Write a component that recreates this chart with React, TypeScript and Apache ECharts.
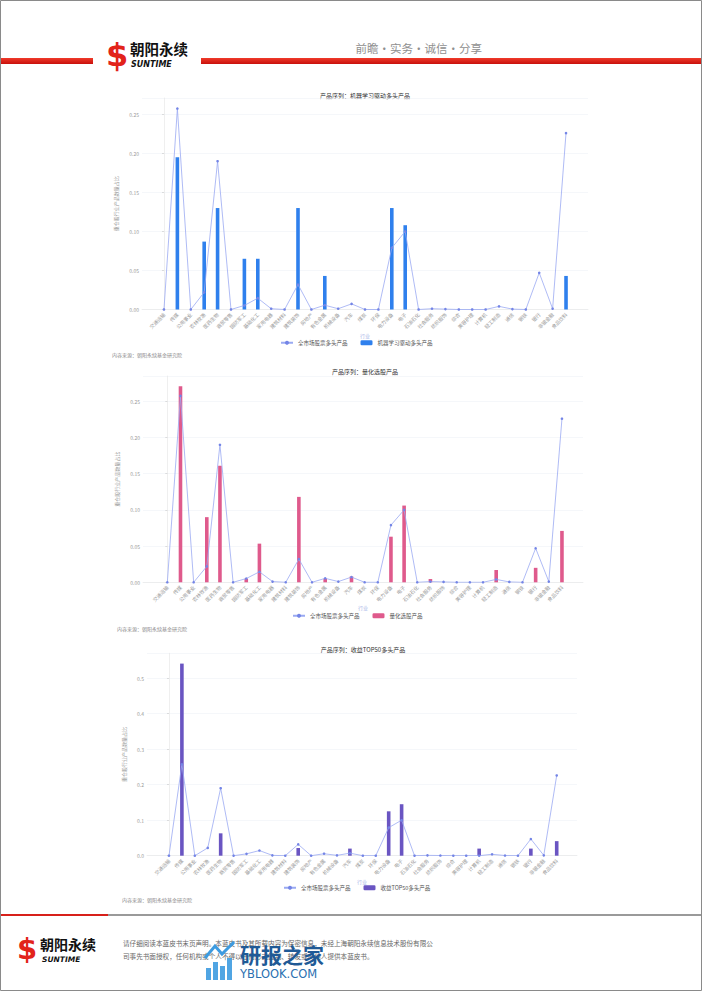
import { useEffect, useRef } from 'react';
import * as echarts from 'echarts';

const industries = ['交通运输','传媒','公用事业','农林牧渔','医药生物','商贸零售','国防军工','基础化工','家用电器','建筑材料','建筑装饰','房地产','有色金属','机械设备','汽车','煤炭','环保','电力设备','电子','石油石化','社会服务','纺织服饰','综合','美容护理','计算机','轻工制造','通信','钢铁','银行','非银金融','食品饮料'];

const marketLong = [0, 0.2575, 0, 0.022, 0.19, 0, 0.0052, 0.0145, 0.001, 0, 0.032, 0, 0.0055, 0.001, 0.0072, 0, 0, 0.079, 0.1, 0, 0.001, 0.0005, 0, 0, 0, 0.004, 0.0005, 0, 0.047, 0.001, 0.226];
const mlLong = [0, 0.195, 0, 0.087, 0.13, 0, 0.065, 0.065, 0, 0, 0.13, 0, 0.043, 0, 0, 0, 0, 0.13, 0.108, 0, 0, 0, 0, 0, 0, 0, 0, 0, 0, 0, 0.043];
const quantStock = [0, 0.271, 0, 0.09, 0.161, 0, 0.005, 0.0534, 0, 0, 0.118, 0, 0.005, 0, 0.008, 0, 0, 0.063, 0.106, 0, 0.0045, 0, 0, 0, 0, 0.017, 0, 0, 0.02, 0, 0.071];
const top50Long = [0, 0.541, 0, 0, 0.063, 0, 0, 0, 0, 0, 0.0216, 0, 0, 0, 0.02, 0, 0, 0.125, 0.145, 0, 0, 0, 0, 0, 0.02, 0, 0, 0, 0.02, 0, 0.041];

const marketName = '全市场股票多头产品';
const panelTitles = ['产品序列：机器学习驱动多头产品', '产品序列：量化选股产品', '产品序列：收益TOP50多头产品'];
const barNames = ['机器学习驱动多头产品', '量化选股产品', '收益TOP50多头产品'];
const barSeries = [mlLong, quantStock, top50Long];
const xAxisName = '行业';
const yAxisName = '重仓股行业产品数量占比';
const sourceText = '内容来源：朝阳永续基金研究院';

const W = 702;
const H = 991;
const FONT = '"Noto Sans CJK SC", "Noto Sans", sans-serif';

const panels = [
  { left: 142, width: 446, top: 98, height: 211.5, xMin: -1.64, xMax: 31.64, yMax: 0.271, interval: 0.05, dec: 2, color: '#2f80ed', titleX: 365, titleY: 95, legendLeft: 280, legendY: 344, src: [112, 354], yGap: 16, xGap: 23.5 },
  { left: 143, width: 440, top: 376, height: 206.3, xMin: -1.85, xMax: 31.6, yMax: 0.285, interval: 0.05, dec: 2, color: '#df5a8c', titleX: 365, titleY: 371, legendLeft: 292, legendY: 617, src: [117, 628], yGap: 12, xGap: 23 },
  { left: 147, width: 430, top: 653.3, height: 202.4, xMin: -1.7, xMax: 31.57, yMax: 0.57, interval: 0.1, dec: 1, color: '#6a55c2', titleX: 363, titleY: 649, legendLeft: 283, legendY: 889, src: [122, 899], yGap: 11, xGap: 22.5 },
];

const lineColor = '#9aaaf2';
const markerColor = '#7485e6';

function buildOption() {
  const grid: any[] = [];
  const xAxis: any[] = [];
  const yAxis: any[] = [];
  const series: any[] = [];
  const legend: any[] = [];
  const graphic: any[] = [];

  panels.forEach((p, i) => {
    grid.push({ left: p.left, top: p.top, width: p.width, height: p.height, containLabel: false });
    xAxis.push({
      type: 'value', gridIndex: i, min: p.xMin, max: p.xMax,
      name: xAxisName, nameLocation: 'middle', nameGap: p.xGap,
      nameTextStyle: { fontSize: 5, color: '#a8b4e8', fontFamily: FONT },
      axisLine: { show: true, lineStyle: { color: '#e6e6e6', width: 0.6 } },
      axisTick: { show: false },
      splitLine: { show: false },
      axisLabel: {
        customValues: industries.map((_, k) => k),
        formatter: (v: number) => industries[Math.round(v)] ?? '',
        rotate: 45, fontSize: 5, color: '#9a9a9a', margin: 4, fontFamily: FONT,
      },
    });
    yAxis.push({
      type: 'value', gridIndex: i, min: 0, max: p.yMax, interval: p.interval,
      name: yAxisName, nameLocation: 'middle', nameGap: p.yGap,
      nameTextStyle: { fontSize: 5, color: '#9a9a9a', fontFamily: FONT },
      axisLine: { show: true, lineStyle: { color: '#e4e4e4', width: 0.6 } },
      axisTick: { show: true, length: 2, lineStyle: { color: '#c8c8c8', width: 0.6 } },
      splitLine: { show: true, lineStyle: { color: '#eff1f6', width: 0.6 } },
      axisLabel: {
        showMaxLabel: false,
        formatter: (v: number) => v.toFixed(p.dec),
        fontSize: 5, color: '#9a9a9a', margin: 3, fontFamily: FONT,
      },
    });
    series.push({
      type: 'bar', name: barNames[i], xAxisIndex: i, yAxisIndex: i,
      data: industries.map((_, k) => [k, barSeries[i][k]]),
      barWidth: 3.6, itemStyle: { color: p.color }, z: 2,
    });
    series.push({
      type: 'line', name: marketName, xAxisIndex: i, yAxisIndex: i,
      data: industries.map((_, k) => [k, marketLong[k]]),
      symbol: 'circle', symbolSize: 2.6, showSymbol: true,
      lineStyle: { color: lineColor, width: 0.8 },
      itemStyle: { color: markerColor },
      z: 3,
    });
    legend.push({
      data: [marketName, barNames[i]],
      left: p.legendLeft, top: p.legendY - 4, orient: 'horizontal',
      padding: 0,
      itemWidth: 12, itemHeight: 5, itemGap: 13,
      textStyle: { fontSize: 5.5, color: '#555', fontFamily: FONT },
      selectedMode: false,
    });
    graphic.push({
      type: 'text', x: p.titleX, y: p.titleY,
      style: { text: panelTitles[i], fontSize: 6, fill: '#333', align: 'center', verticalAlign: 'middle', fontFamily: FONT },
    });
    graphic.push({
      type: 'text', x: p.src[0], y: p.src[1],
      style: { text: sourceText, fontSize: 5, fill: '#8a8a8a', align: 'left', verticalAlign: 'middle', fontFamily: FONT },
    });
  });

  const redGrad = new echarts.graphic.LinearGradient(0, 0, 0, 1, [
    { offset: 0, color: '#f03a2a' },
    { offset: 1, color: '#c8100c' },
  ]);

  // page frame
  graphic.push({ type: 'rect', shape: { x: 0.5, y: 0.5, width: W - 1, height: H - 1 }, style: { fill: 'none', stroke: '#8a8a8a', lineWidth: 1 }, z: 10 });
  // header bars
  graphic.push({ type: 'rect', shape: { x: 0, y: 58, width: 93, height: 6 }, style: { fill: redGrad } });
  graphic.push({ type: 'rect', shape: { x: 201, y: 58, width: 501, height: 6 }, style: { fill: redGrad } });
  // header logo
  graphic.push({ type: 'text', x: 117, y: 55, style: { text: '$', fontSize: 32, fontWeight: 'bold', fill: '#e2231a', align: 'center', verticalAlign: 'middle', fontFamily: '"DejaVu Sans", sans-serif' } });
  graphic.push({ type: 'text', x: 130, y: 48, style: { text: '朝阳永续', fontSize: 14.5, fontWeight: 'bold', fill: '#111', align: 'left', verticalAlign: 'middle', fontFamily: FONT } });
  graphic.push({ type: 'text', x: 131, y: 64, style: { text: 'SUNTIME', fontSize: 8, fontWeight: 'bold', fontStyle: 'italic', fill: '#111', align: 'left', verticalAlign: 'middle', fontFamily: '"DejaVu Sans", sans-serif' } });
  graphic.push({ type: 'text', x: 482, y: 48, style: { text: '前瞻·实务·诚信·分享', fontSize: 11.5, fill: '#8f8f8f', align: 'right', verticalAlign: 'middle', fontFamily: '"Noto Sans CJK SC", serif' } });

  // footer line
  graphic.push({ type: 'rect', shape: { x: 0, y: 914, width: 108, height: 2 }, style: { fill: '#d7201a' } });
  graphic.push({ type: 'rect', shape: { x: 108, y: 914, width: 594, height: 2 }, style: { fill: '#9a9a9a' } });
  // footer logo
  graphic.push({ type: 'text', x: 27, y: 949, style: { text: '$', fontSize: 29, fontWeight: 'bold', fill: '#e2231a', align: 'center', verticalAlign: 'middle', fontFamily: '"DejaVu Sans", sans-serif' } });
  graphic.push({ type: 'text', x: 40, y: 944, style: { text: '朝阳永续', fontSize: 14, fontWeight: 'bold', fill: '#111', align: 'left', verticalAlign: 'middle', fontFamily: FONT } });
  graphic.push({ type: 'text', x: 42, y: 959, style: { text: 'SUNTIME', fontSize: 7.5, fontWeight: 'bold', fontStyle: 'italic', fill: '#111', align: 'left', verticalAlign: 'middle', fontFamily: '"DejaVu Sans", sans-serif' } });
  // disclaimer
  graphic.push({ type: 'text', x: 123, y: 943, style: { text: '请仔细阅读本蓝皮书末页声明。本蓝皮书及其所载内容为保密信息，未经上海朝阳永续信息技术股份有限公', fontSize: 6.6, fill: '#666', align: 'left', verticalAlign: 'middle', fontFamily: FONT } });
  graphic.push({ type: 'text', x: 123, y: 956, style: { text: '司事先书面授权，任何机构或个人不得以任何形式复制、转发或向他人提供本蓝皮书。', fontSize: 6.6, fill: '#666', align: 'left', verticalAlign: 'middle', fontFamily: FONT } });
  // watermark (as in the reference page)
  [[206, 968, 12], [213, 962, 18], [220, 966, 14], [227, 958, 22]].forEach(([x, y, h]) => {
    graphic.push({ type: 'rect', shape: { x, y, width: 5, height: h }, style: { fill: '#3d9be0', opacity: 0.9 }, z: 20 });
  });
  graphic.push({ type: 'polyline', shape: { points: [[205, 958], [215, 946], [222, 954], [234, 942]] }, style: { stroke: '#3d9be0', lineWidth: 3, fill: 'none' }, z: 20 });
  graphic.push({ type: 'text', x: 240, y: 954, style: { text: '研报之家', fontSize: 21, fontWeight: 'bold', fill: '#1f5a96', align: 'left', verticalAlign: 'middle', fontFamily: FONT }, z: 20 });
  graphic.push({ type: 'text', x: 240, y: 974, style: { text: 'YBLOOK.COM', fontSize: 11.5, fill: '#2a6fb0', align: 'left', verticalAlign: 'middle', fontFamily: '"DejaVu Sans", sans-serif' }, z: 20 });

  return {
    animation: false,
    backgroundColor: '#ffffff',
    textStyle: { fontFamily: FONT },
    grid, xAxis, yAxis, series, legend, graphic,
  };
}

export default function App() {
  const ref = useRef<HTMLDivElement>(null);
  useEffect(() => {
    document.body.style.margin = '0';
    const chart = echarts.init(ref.current!, null, { renderer: 'svg', width: W, height: H });
    chart.setOption(buildOption() as any);
    return () => chart.dispose();
  }, []);
  return <div ref={ref} style={{ width: W, height: H, position: 'fixed', left: 0, top: 0, background: '#fff' }} />;
}
